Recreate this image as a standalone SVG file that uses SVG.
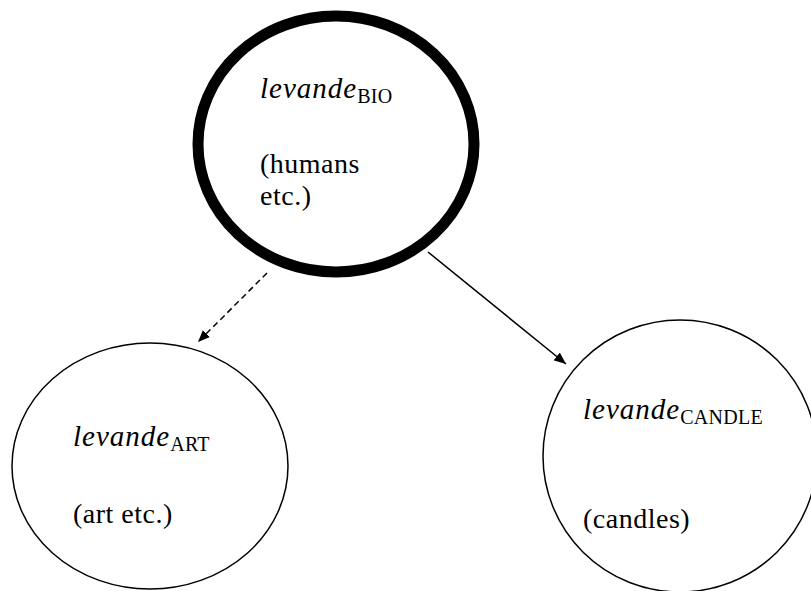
<svg xmlns="http://www.w3.org/2000/svg" width="811" height="591" viewBox="0 0 811 591">
<defs>
<marker id="ah" viewBox="0 0 12 10" refX="12" refY="5" markerWidth="12" markerHeight="10" markerUnits="userSpaceOnUse" orient="auto">
<path d="M0,0 L12,5 L0,10 z" fill="#000"/>
</marker>
<style>
.t{font-family:"Liberation Serif","Times New Roman",serif;font-size:28px;letter-spacing:0.5px;fill:#000}
.i{font-style:italic;font-size:29px;letter-spacing:1px}
.s{font-size:20px;letter-spacing:0.3px}
.node{fill:#fff;stroke:#000}
.edge{stroke:#000;stroke-width:1.5;fill:none}
</style>
</defs>
<rect width="811" height="591" fill="#fff"/>
<g id="connectors">
<line class="edge" x1="267" y1="273" x2="198" y2="342" stroke-dasharray="6,4" marker-end="url(#ah)"/>
<line class="edge" x1="428" y1="252" x2="566" y2="364" marker-end="url(#ah)"/>
</g>
<g id="bio">
<ellipse class="node" cx="336" cy="144" rx="138" ry="128" stroke-width="11"/>
<text class="t" x="260" y="98"><tspan class="i">levande</tspan><tspan class="s" dy="5">BIO</tspan></text>
<text class="t" x="260" y="173">(humans</text>
<text class="t" x="260" y="205">etc.)</text>
</g>
<g id="art">
<ellipse class="node" cx="150" cy="466" rx="138" ry="123" stroke-width="1.5"/>
<text class="t" x="73" y="446"><tspan class="i">levande</tspan><tspan class="s" dy="5">ART</tspan></text>
<text class="t" x="73" y="523">(art etc.)</text>
</g>
<g id="candle">
<ellipse class="node" cx="680" cy="456" rx="137" ry="136" stroke-width="1.5"/>
<text class="t" x="583" y="419"><tspan class="i">levande</tspan><tspan class="s" dy="5">CANDLE</tspan></text>
<text class="t" x="583" y="528">(candles)</text>
</g>
</svg>
